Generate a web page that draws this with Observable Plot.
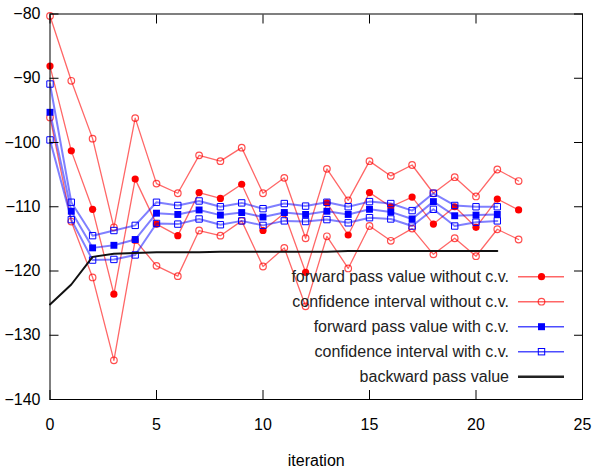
<!DOCTYPE html>
<html><head><meta charset="utf-8">
<script src="https://cdn.jsdelivr.net/npm/d3@7"></script>
<script src="https://cdn.jsdelivr.net/npm/@observablehq/plot@0.6"></script>
<style>
body{margin:0;background:#fff;}
#chart{position:relative;width:594px;height:467px;}
</style></head><body><div id="chart"></div>
<script>
// iterations
const iterNoCV = [0,1,2,3,4,5,6,7,8,9,10,11,12,13,14,15,16,17,18,19,20,21,22];
const iterCV   = [0,1,2,3,4,5,6,7,8,9,10,11,12,13,14,15,16,17,18,19,20,21];

// forward pass value without control variate
const fwdNoCV = [-88.1,-101.3,-110.4,-123.6,-105.7,-112.7,-114.5,-107.8,-108.7,-106.5,-113.7,-111.0,-120.2,-109.4,-114.4,-107.8,-110.0,-108.5,-112.7,-110.0,-113.2,-108.8,-110.5];
const ciNoCVUpper = [-80.3,-90.4,-99.4,-113.2,-96.2,-106.4,-107.9,-102.0,-102.9,-100.8,-107.9,-105.5,-114.9,-104.1,-109.0,-102.9,-105.2,-103.5,-107.9,-105.4,-108.4,-104.2,-106.0];
const ciNoCVLower = [-96.1,-112.3,-121.0,-133.9,-115.2,-119.2,-120.8,-113.7,-114.5,-112.2,-119.3,-116.4,-125.5,-114.6,-119.6,-113.0,-115.3,-113.4,-117.4,-114.9,-117.7,-113.5,-115.1];

// forward pass value with control variate
const fwdCV = [-95.3,-110.7,-116.4,-116.0,-115.1,-111.0,-111.2,-110.5,-111.3,-110.9,-111.6,-110.9,-111.2,-110.7,-111.2,-110.4,-110.8,-111.9,-109.2,-111.4,-111.3,-111.2];
const ciCVUpper = [-90.9,-109.3,-114.5,-113.7,-112.9,-109.3,-109.8,-109.1,-110.0,-109.4,-110.3,-109.5,-109.9,-109.3,-110.0,-109.2,-109.5,-110.6,-107.9,-109.8,-110.0,-110.0];
const ciCVLower = [-99.6,-112.0,-118.3,-118.2,-117.5,-112.6,-112.7,-111.9,-112.8,-112.2,-112.9,-112.2,-112.3,-112.0,-112.5,-111.7,-111.9,-113.0,-110.4,-113.0,-112.4,-112.2];

// backward pass value
const backward = [-125.2,-122.1,-117.8,-117.3,-117.2,-117.1,-117.1,-117.1,-117.0,-117.0,-117.0,-117.0,-117.0,-117.0,-116.9,-116.9,-116.9,-116.9,-116.9,-116.9,-116.9,-116.9];

const xTicks = [0,5,10,15,20,25];
const yTicks = [-140,-130,-120,-110,-100,-90,-80];
const legendLabels = ["forward pass value without c.v.","confidence interval without c.v.","forward pass value with c.v.","confidence interval with c.v.","backward pass value"];

const RED = "#ff0000", BLUE = "#0000ff", BLACK = "#111111";
const FONT = "'Liberation Sans', Arial, sans-serif";
const redLine = {stroke: RED, strokeOpacity: 0.6, strokeWidth: 1.3};
const blueLine = {stroke: BLUE, strokeOpacity: 0.5, strokeWidth: 2};

const chart = Plot.plot({
  width: 594, height: 467,
  marginLeft: 49.5, marginRight: 12, marginTop: 13.5, marginBottom: 68,
  style: {fontFamily: FONT, fontSize: "16px", color: "#000", background: "#fff", overflow: "visible"},
  x: {domain: [0, 25]},
  y: {domain: [-140, -80]},
  marks: [
    // red: without c.v.
    Plot.line(fwdNoCV, {x: iterNoCV, y: fwdNoCV, ...redLine}),
    Plot.dot(fwdNoCV, {x: iterNoCV, y: fwdNoCV, r: 3.6, fill: RED, stroke: "none"}),
    Plot.line(ciNoCVUpper, {x: iterNoCV, y: ciNoCVUpper, ...redLine}),
    Plot.line(ciNoCVLower, {x: iterNoCV, y: ciNoCVLower, ...redLine}),
    Plot.dot(ciNoCVUpper, {x: iterNoCV, y: ciNoCVUpper, r: 3.3, fill: "none", stroke: RED, strokeOpacity: 0.7, strokeWidth: 1.2}),
    Plot.dot(ciNoCVLower, {x: iterNoCV, y: ciNoCVLower, r: 3.3, fill: "none", stroke: RED, strokeOpacity: 0.7, strokeWidth: 1.2}),
    // blue: with c.v.
    Plot.line(fwdCV, {x: iterCV, y: fwdCV, ...blueLine}),
    Plot.dot(fwdCV, {x: iterCV, y: fwdCV, symbol: "square", r: 3.9, fill: BLUE, stroke: "none"}),
    Plot.line(ciCVUpper, {x: iterCV, y: ciCVUpper, ...blueLine}),
    Plot.line(ciCVLower, {x: iterCV, y: ciCVLower, ...blueLine}),
    Plot.dot(ciCVUpper, {x: iterCV, y: ciCVUpper, symbol: "square", r: 3.6, fill: "none", stroke: BLUE, strokeWidth: 1}),
    Plot.dot(ciCVLower, {x: iterCV, y: ciCVLower, symbol: "square", r: 3.6, fill: "none", stroke: BLUE, strokeWidth: 1}),
    // backward
    Plot.line(backward, {x: iterCV, y: backward, stroke: BLACK, strokeWidth: 2}),
    // axes
    Plot.frame({stroke: "#000", strokeWidth: 1}),
    Plot.axisX(xTicks, {anchor: "bottom", tickSize: 0, tickPadding: 19, label: "iteration", labelAnchor: "center", labelOffset: 66, labelArrow: "none"}),
    Plot.axisY(yTicks, {anchor: "left", tickSize: 0, tickPadding: 9.5, label: null}),
    Plot.axisX(xTicks, {anchor: "bottom", tickSize: -9, fill: "none", label: null}),
    Plot.axisX(xTicks, {anchor: "top", tickSize: -9, fill: "none", label: null}),
    Plot.axisY(yTicks, {anchor: "left", tickSize: -9, fill: "none", label: null}),
    Plot.axisY(yTicks, {anchor: "right", tickSize: -9, fill: "none", label: null})
  ]
});
document.getElementById("chart").appendChild(chart);

// legend (inside the plot frame, gnuplot style)
const svg = d3.select(chart);
const lg = svg.append("g").attr("font-family", FONT).attr("font-size", 16);
const legendStyles = [
  {color: RED, op: 0.6, w: 1.5, marker: "filledCircle"},
  {color: RED, op: 0.6, w: 1.5, marker: "openCircle"},
  {color: BLUE, op: 0.7, w: 1.5, marker: "filledSquare"},
  {color: BLUE, op: 0.7, w: 1.5, marker: "openSquare"},
  {color: "#222", op: 1, w: 2.5, marker: null}
];
legendLabels.forEach((lab, i) => {
  const y = 276.7 + i * 25;
  const s = legendStyles[i];
  lg.append("text").attr("x", 509).attr("y", y).attr("dy", "0.35em").attr("text-anchor", "end").attr("fill", "#222").text(lab);
  lg.append("line").attr("x1", 518).attr("x2", 564).attr("y1", y).attr("y2", y)
    .attr("stroke", s.color).attr("stroke-opacity", s.op).attr("stroke-width", s.w);
  const mx = 541.5;
  if (s.marker === "filledCircle") lg.append("circle").attr("cx", mx).attr("cy", y).attr("r", 3.6).attr("fill", RED);
  if (s.marker === "openCircle") lg.append("circle").attr("cx", mx).attr("cy", y).attr("r", 3.3).attr("fill", "none").attr("stroke", RED).attr("stroke-opacity", 0.7).attr("stroke-width", 1.2);
  if (s.marker === "filledSquare") lg.append("rect").attr("x", mx - 3.5).attr("y", y - 3.5).attr("width", 7).attr("height", 7).attr("fill", BLUE);
  if (s.marker === "openSquare") lg.append("rect").attr("x", mx - 3.2).attr("y", y - 3.2).attr("width", 6.4).attr("height", 6.4).attr("fill", "none").attr("stroke", BLUE).attr("stroke-width", 1);
});
</script></body></html>
